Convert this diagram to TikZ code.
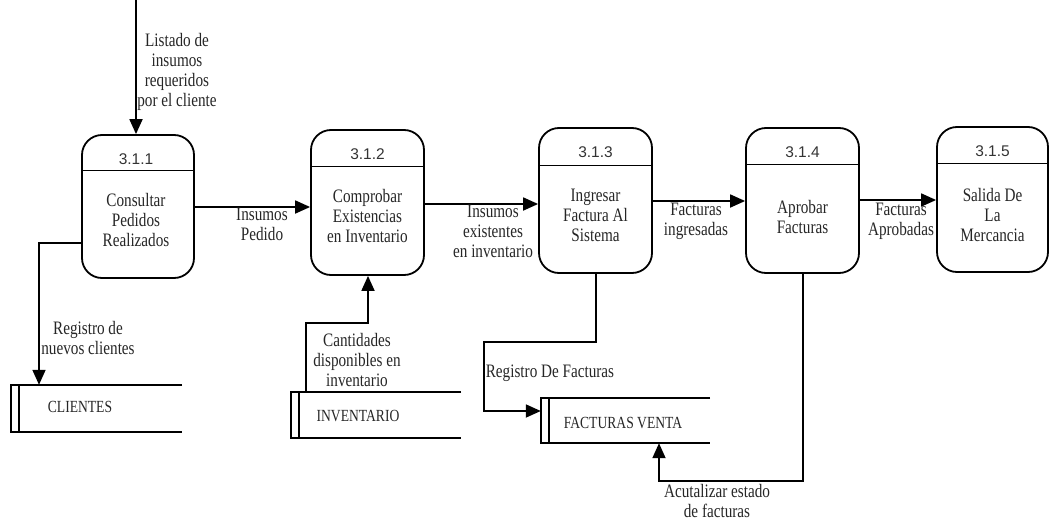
\documentclass[tikz,border=0pt]{standalone}
\usepackage{fontspec}
\setmainfont{Liberation Serif}[FakeStretch=0.8]
\newfontfamily\numfont{Liberation Sans}
\usetikzlibrary{arrows.meta,calc}

% open-ended data store: top, bottom, left side and inner divider
\newcommand\dfdstore[1]{%
  \draw[line width=1.8pt] (#1.north east) -- (#1.north west) -- (#1.south west) -- (#1.south east);
  \draw[line width=1.8pt] ([xshift=8pt]#1.north west) -- ([xshift=8pt]#1.south west);
}

\begin{document}
\begin{tikzpicture}[x=1pt,y=-1pt,
  proc/.style={draw, line width=1.8pt, rounded corners=20pt, minimum width=113pt, inner sep=0pt},
  flow/.style={line width=1.8pt, -{Triangle[length=15pt,width=13pt]}},
  lbl/.style={font=\fontsize{19}{20}\selectfont, align=center, text=black!85, inner sep=0pt},
  stlbl/.style={font=\fontsize{17}{20}\selectfont, text=black!85, inner sep=0pt},
  num/.style={font=\numfont\fontsize{15.5}{18}\selectfont, text=black!80, inner sep=0pt},
  storebox/.style={inner sep=0pt, minimum width=170pt},
  hdr/.style={line width=0.9pt},
]
\useasboundingbox (0,0) rectangle (1050,522);

% processes
\node[proc, minimum height=143pt, minimum width=112pt] (p1) at (138,206.5) {};
\node[proc, minimum height=145pt] (p2) at (367.5,202.5) {};
\node[proc, minimum height=145pt] (p3) at (595.5,200.5) {};
\node[proc, minimum height=145pt] (p4) at (802.5,200.5) {};
\node[proc, minimum height=145pt, minimum width=111pt] (p5) at (992.5,199.5) {};

\coordinate (h1) at (0,170); \draw[hdr] (p1.west |- h1) -- (p1.east |- h1);
\coordinate (h2) at (0,166); \draw[hdr] (p2.west |- h2) -- (p2.east |- h2);
\coordinate (h3) at (0,165); \draw[hdr] (p3.west |- h3) -- (p3.east |- h3);
\coordinate (h4) at (0,164); \draw[hdr] (p4.west |- h4) -- (p4.east |- h4);
\coordinate (h5) at (0,163); \draw[hdr] (p5.west |- h5) -- (p5.east |- h5);

\node[num] (n1) at (136,159) {3.1.1};
\node[num] (n2) at (367.5,154) {3.1.2};
\node[num] (n3) at (595.5,152) {3.1.3};
\node[num] (n4) at (802.5,152) {3.1.4};
\node[num] (n5) at (992.5,151) {3.1.5};

\node[lbl] (t1) at (136,220) {Consultar\\Pedidos\\Realizados};
\node[lbl] (t2) at (367.5,216) {Comprobar\\Existencias\\en Inventario};
\node[lbl] (t3) at (595.5,215) {Ingresar\\Factura Al\\Sistema};
\node[lbl] (t4) at (802.5,217) {Aprobar\\Facturas};
\node[lbl] (t5) at (992.5,215) {Salida De\\La\\Mercancia};

% data stores
\node[storebox, minimum width=171pt, minimum height=47pt] (s1) at (96.5,408.5) {};
\node[storebox, minimum height=46pt] (s2) at (376,415) {};
\node[storebox, minimum width=169pt, minimum height=45pt] (s3) at (625.5,420.5) {};
\dfdstore{s1}
\dfdstore{s2}
\dfdstore{s3}
\node[stlbl] (c1) at (80,407) {CLIENTES};
\node[stlbl] (c2) at (358,416) {INVENTARIO};
\node[stlbl] (c3) at (623,423) {FACTURAS VENTA};

% flows between processes
\coordinate (src) at (136,0);
\draw[flow] (src) -- (src |- p1.north);
\coordinate (a12) at (0,207); \draw[flow] (p1.east |- a12) -- (p2.west |- a12);
\coordinate (a23) at (0,204); \draw[flow] (p2.east |- a23) -- (p3.west |- a23);
\coordinate (a34) at (0,201); \draw[flow] (p3.east |- a34) -- (p4.west |- a34);
\coordinate (a45) at (0,200); \draw[flow] (p4.east |- a45) -- (p5.west |- a45);

% flows to and from stores
\coordinate (k1) at (39,243);
\draw[flow] (p1.west |- k1) -- (k1) -- (k1 |- s1.north);
\coordinate (k2) at (306,323); \coordinate (k3) at (368,323);
\draw[flow] (k2 |- s2.north) -- (k2) -- (k3) -- (k3 |- p2.south);
\coordinate (k4) at (596,342); \coordinate (k5) at (484,411);
\draw[flow] (k4 |- p3.south) -- (k4) -| (k5) -- (k5 -| s3.west);
\coordinate (k6) at (803,481); \coordinate (k7) at (659,481);
\draw[flow] (k6 |- p4.south) -- (k6) -- (k7) -- (k7 |- s3.south);

% flow labels
\node[lbl] (l0) at (177,72) {Listado de\\insumos\\requeridos\\por el cliente};
\node[lbl] (l1) at (262,224) {Insumos\\Pedido};
\node[lbl] (l2) at (493,231) {Insumos\\existentes\\en inventario};
\node[lbl] (l3) at (696,221) {Facturas\\ingresadas};
\node[lbl] (l4) at (901,221) {Facturas\\Aprobadas};
\node[lbl] (l5) at (88,338) {Registro de\\nuevos clientes};
\node[lbl] (l6) at (357,360) {Cantidades\\disponibles en\\inventario};
\node[lbl] (l7) at (550,373) {Registro De Facturas};
\node[lbl] (l8) at (717,501) {Acutalizar estado\\de facturas};
\end{tikzpicture}
\end{document}
